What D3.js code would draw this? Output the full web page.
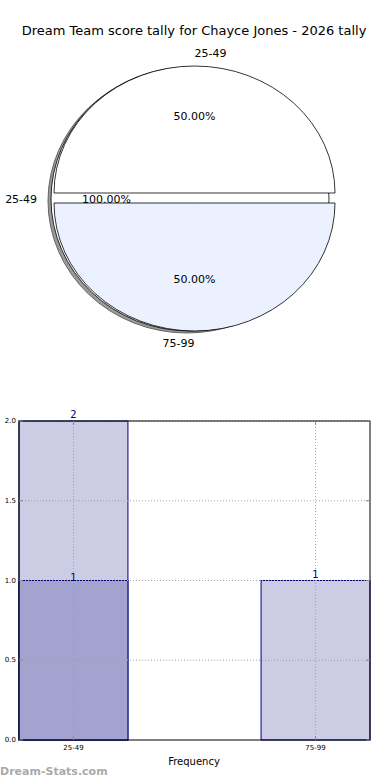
<!DOCTYPE html>
<html><head><meta charset="utf-8">
<script src="https://cdn.jsdelivr.net/npm/d3@7"></script>
<style>body{margin:0;background:#fff;} svg{display:block;font-family:"DejaVu Sans",sans-serif;}</style>
</head><body>
<svg id="c" width="390" height="780"></svg>
<script>
// ---- data ----
const title = "Dream Team score tally for Chayce Jones - 2026 tally";
const pieLabels = ["25-49", "75-99"];
const pieValues = [1, 1];
const pieColors = ["#ffffff", "#ebf1fe"];
const innerLabels = ["25-49"];
const innerValues = [1];
const barCategories = ["25-49", "50-74", "75-99"];
const barTickLabels = ["25-49", "", "75-99"];
const totalCounts = [2, 0, 1];
const overlayCounts = [1, 0, 0];
const yTicks = [0, 0.5, 1.0, 1.5, 2.0];
const xLabel = "Frequency";
const watermark = "Dream-Stats.com";

const svg = d3.select("#c");
svg.append("text").attr("x", 194).attr("y", 30).attr("text-anchor", "middle")
  .attr("dominant-baseline", "central").attr("font-size", 13).attr("fill", "#000").text(title);

// ---- pie ----
const rx = 140.5, ry = 127.5;
const arcUnit = d3.arc().innerRadius(0).outerRadius(1);
const fullPie = d3.pie().sort(null).startAngle(-3 * Math.PI / 2).endAngle(Math.PI / 2)(innerValues);
const halfPie = d3.pie().sort(null).startAngle(-Math.PI / 2).endAngle(3 * Math.PI / 2)(pieValues);
const innerC = {x: 190, y: 199, rx: 139, ry: 132};

function anchorFor(a) {
  const m = ((a % (2 * Math.PI)) + 2 * Math.PI) % (2 * Math.PI);
  return m < Math.PI - 1e-9 || Math.abs(m) < 1e-9 ? "start" : "end";
}
// shadow
svg.append("g").attr("transform", `translate(${innerC.x - 3},${innerC.y + 2}) scale(${innerC.rx},${innerC.ry})`)
  .selectAll("path").data(fullPie).join("path").attr("d", arcUnit)
  .attr("fill", "#9a9a9a").attr("stroke", "#666").attr("stroke-width", 1)
  .attr("vector-effect", "non-scaling-stroke");
// inner full wedge
svg.append("g").attr("transform", `translate(${innerC.x},${innerC.y}) scale(${innerC.rx},${innerC.ry})`)
  .selectAll("path").data(fullPie).join("path").attr("d", arcUnit)
  .attr("fill", "#fff").attr("stroke", "#000").attr("stroke-width", 0.8)
  .attr("vector-effect", "non-scaling-stroke");
// halves, exploded
const halfCenters = [{x: 194.5, y: 193, ry: 127}, {x: 194.5, y: 203, ry: 128}];
halfPie.forEach((d, i) => {
  const c = halfCenters[i];
  svg.append("g").attr("transform", `translate(${c.x},${c.y}) scale(${rx},${c.ry})`)
    .append("path").attr("d", arcUnit(d)).attr("fill", pieColors[i])
    .attr("stroke", "#000").attr("stroke-width", 0.8).attr("vector-effect", "non-scaling-stroke");
});
// labels
function pieLabel(d, c, rxx, ryy, text, pctText) {
  const a = (d.startAngle + d.endAngle) / 2;
  svg.append("text").attr("x", c.x + 1.1 * rxx * Math.sin(a)).attr("y", c.y - 1.1 * ryy * Math.cos(a))
    .attr("text-anchor", anchorFor(a)).attr("dominant-baseline", "central")
    .attr("font-size", 11).text(text);
  svg.append("text").attr("x", c.x + 0.6 * rxx * Math.sin(a)).attr("y", c.y - 0.6 * ryy * Math.cos(a))
    .attr("text-anchor", "middle").attr("dominant-baseline", "central")
    .attr("font-size", 11).text(pctText);
}
const halfTotal = d3.sum(pieValues);
halfPie.forEach((d, i) => pieLabel(d, halfCenters[i], rx, halfCenters[i].ry, pieLabels[i],
  (100 * pieValues[i] / halfTotal).toFixed(2) + "%"));
const innerTotal = d3.sum(innerValues);
fullPie.forEach((d, i) => pieLabel(d, innerC, innerC.rx, innerC.ry, innerLabels[i],
  (100 * innerValues[i] / innerTotal).toFixed(2) + "%"));

// ---- bar chart ----
const L = 19, R = 370, T = 421, B = 740;
const x = d3.scaleLinear().domain([-0.45, barCategories.length - 1 + 0.45]).range([L, R]);
const y = d3.scaleLinear().domain([0, 2]).range([B, T]);
const bw = 0.9;
const g = svg.append("g");
const shown = barCategories.map((c, i) => i).filter(i => totalCounts[i] > 0);
g.selectAll("rect.tot").data(shown).join("rect")
  .attr("x", i => x(i - bw / 2)).attr("width", i => x(i + bw / 2) - x(i - bw / 2))
  .attr("y", i => y(totalCounts[i])).attr("height", i => y(0) - y(totalCounts[i]))
  .attr("fill", "#ccccE5").attr("stroke", "#000080").attr("stroke-width", 1);
const shownO = shown.filter(i => overlayCounts[i] > 0);
g.selectAll("rect.ov").data(shownO).join("rect")
  .attr("x", i => x(i - bw / 2)).attr("width", i => x(i + bw / 2) - x(i - bw / 2))
  .attr("y", i => y(overlayCounts[i])).attr("height", i => y(0) - y(overlayCounts[i]))
  .attr("fill", "#a3a3d0").attr("stroke", "#000080").attr("stroke-width", 1);
// grid
const tickX = shown;
yTicks.slice(1).forEach(v => g.append("line").attr("x1", L).attr("x2", R).attr("y1", y(v)).attr("y2", y(v))
  .attr("stroke", "#a0a0a0").attr("stroke-width", 1).attr("stroke-dasharray", "1,2"));
tickX.forEach(i => g.append("line").attr("x1", x(i)).attr("x2", x(i)).attr("y1", T).attr("y2", B)
  .attr("stroke", "#a0a0a0").attr("stroke-width", 1).attr("stroke-dasharray", "1,2"));
// frame
g.append("rect").attr("x", L).attr("y", T).attr("width", R - L).attr("height", B - T)
  .attr("fill", "none").attr("stroke", "#000").attr("stroke-width", 1);
// ticks
yTicks.forEach(v => {
  g.append("line").attr("x1", L).attr("x2", L + 4).attr("y1", y(v)).attr("y2", y(v)).attr("stroke", "#888");
  g.append("line").attr("x1", R).attr("x2", R - 4).attr("y1", y(v)).attr("y2", y(v)).attr("stroke", "#888");
  g.append("text").attr("x", 16).attr("y", y(v)).attr("text-anchor", "end").attr("dominant-baseline", "central")
    .attr("font-size", 7).text(v.toFixed(1));
});
tickX.forEach(i => {
  g.append("line").attr("x1", x(i)).attr("x2", x(i)).attr("y1", B).attr("y2", B - 4).attr("stroke", "#888");
  g.append("line").attr("x1", x(i)).attr("x2", x(i)).attr("y1", T).attr("y2", T + 4).attr("stroke", "#888");
  g.append("text").attr("x", x(i)).attr("y", 748).attr("text-anchor", "middle").attr("dominant-baseline", "central")
    .attr("font-size", 7).text(barTickLabels[i]);
});
// value labels
shown.forEach(i => g.append("text").attr("x", x(i)).attr("y", y(totalCounts[i]) - 3)
  .attr("text-anchor", "middle").attr("font-size", 10).attr("fill", "#000080").text(totalCounts[i]));
shownO.forEach(i => g.append("text").attr("x", x(i)).attr("y", y(overlayCounts[i]) - 0)
  .attr("text-anchor", "middle").attr("font-size", 10).attr("fill", "#000080").text(overlayCounts[i]));
svg.append("text").attr("x", 194).attr("y", 761).attr("text-anchor", "middle").attr("dominant-baseline", "central")
  .attr("font-size", 10).text(xLabel);
svg.append("text").attr("x", 0).attr("y", 771).attr("dominant-baseline", "central")
  .attr("font-size", 11).attr("font-weight", "bold").attr("fill", "#aaa").text(watermark);
</script>
</body></html>
